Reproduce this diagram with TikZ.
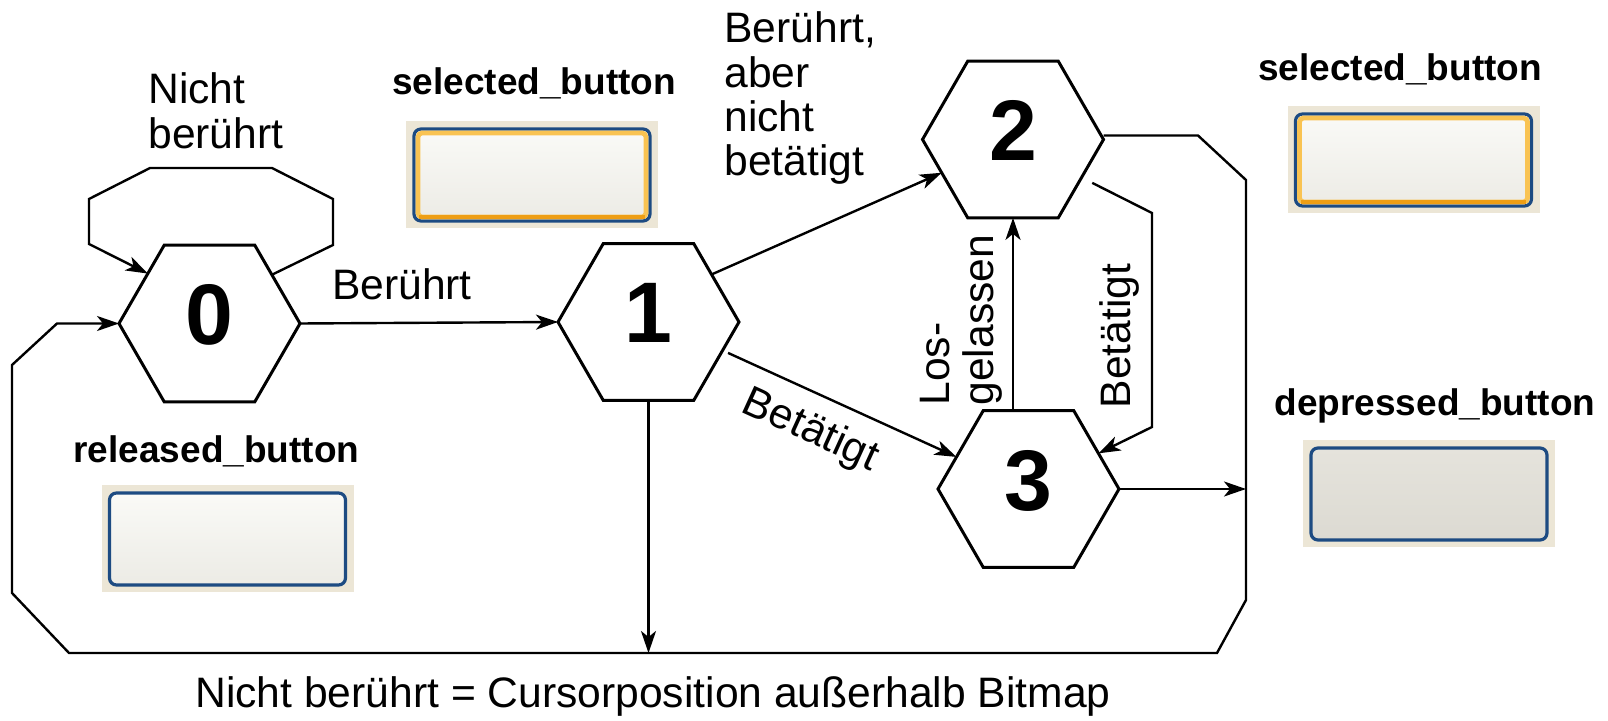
\documentclass[tikz,border=0pt]{standalone}
\usepackage{fontspec}
\setmainfont{Liberation Sans}
\usetikzlibrary{shapes.geometric,arrows.meta,calc}

\definecolor{btnbeige}{HTML}{ECE6D6}
\definecolor{btnblue}{HTML}{1D4B82}
\definecolor{btnring}{HTML}{F9C352}
\definecolor{btnringdark}{HTML}{EE9E14}
\definecolor{facetop}{HTML}{FAFAF7}
\definecolor{facebot}{HTML}{ECEBE5}
\definecolor{presstop}{HTML}{E5E3DC}
\definecolor{pressbot}{HTML}{DCDAD2}

\begin{document}
\begin{tikzpicture}[x=0.5pt,y=-0.5pt,
  state/.style={regular polygon, regular polygon sides=6, minimum size=90.5pt,
    inner sep=0pt, outer sep=0pt, draw, line width=1.5pt,
    font=\fontsize{43}{43}\selectfont\bfseries, text depth=9pt},
  conn/.style={line width=1.2pt, -{Stealth[length=11pt,width=7.5pt,inset=3pt]}},
  lbl/.style={font=\fontsize{21.3}{22.2}\selectfont, inner sep=0pt},
  blbl/.style={font=\fontsize{18.5}{20}\selectfont\bfseries, inner sep=0pt},
  bgbox/.style={fill=btnbeige, minimum width=126pt, minimum height=53.5pt,
    inner sep=0pt, outer sep=0pt},
  face/.style={rounded corners=3.5pt, minimum width=118pt, minimum height=46pt,
    inner sep=0pt, outer sep=0pt, draw=btnblue, line width=1.6pt},
]
\path[use as bounding box, fill=white] (0,0) rectangle (1608,721);

% states
\node[state] (h0) at (209.5,323.5) {0};
\node[state] (h1) at (648.5,322) {1};
\node[state] (h2) at (1013,139.5) {2};
\node[state] (h3) at (1028.5,489) {3};

% corners of the return path
\coordinate (r1) at (1198,135.5);
\coordinate (r2) at (1246,180);
\coordinate (r3) at (1246,600);
\coordinate (r4) at (1217,653);
\coordinate (l1) at (69,653);
\coordinate (l2) at (12,593);
\coordinate (l3) at (12,365);
\coordinate (l4) at (57,323.5);

% self loop of state 0
\draw[conn] (h0.38) -- (333,245) -- (333,199) -- (272,168) -- (150,168)
  -- (89,199) -- (89,244) -- (h0.141);
\node[lbl, anchor=north west, align=left] (tnb) at (148,72.5) {Nicht\\berührt};

% transitions
\draw[conn] (h0.east) -- node[lbl, pos=0.395, anchor=south, inner sep=11pt] {Berührt} (h1.west);
\draw[conn] (h1.37) -- (h2.205);
\node[lbl, anchor=north west, align=left] (tbab) at (724,11.5) {Berührt,\\aber\\nicht\\betätigt};
\draw[conn, shorten <=3pt] (h1.-21) -- node[lbl, pos=0.44, sloped, anchor=north, inner sep=8pt] {Betätigt} (h3.156);
\draw[conn, shorten <=6pt] (h2.-29) -- (1152,213)
  -- node[lbl, pos=0.575, rotate=90, anchor=south, inner sep=5.5pt] {Betätigt} (1152,427)
  -- (h3.27);
\draw[conn] (h2.south |- h3.north)
  -- node[lbl, pos=0.469, rotate=90, anchor=south, align=left, inner sep=4.5pt] {Los-\\gelassen} (h2.south);
\draw[conn] (h1.south) -- (h1.south |- l1);
\draw[conn] (h3.east) -- (h3.east -| r2);
\draw[conn] ([yshift=2pt]h2.east) -- (r1) -- (r2) -- (r3) -- (r4) -- (l1)
  -- (l2) -- (l3) -- (l4) -- (h0.west);

\node[lbl, anchor=base] (foot) at (653,708) {Nicht berührt = Cursorposition außerhalb Bitmap};

% button bitmaps
\node[blbl, anchor=base] (tselA) at (534,95) {selected\_button};
\node[bgbox] (bgA) at (532,175) {};
\node[face, top color=facetop, bottom color=facebot] (faceA) at (bgA.center) {};
\draw[btnring, line width=2.4pt, rounded corners=2pt]
  ([shift={(2pt,-2pt)}]faceA.north west) rectangle ([shift={(-2pt,2pt)}]faceA.south east);
\draw[btnringdark, line width=1.8pt]
  ([shift={(2.6pt,2.1pt)}]faceA.south west) -- ([shift={(-2.6pt,2.1pt)}]faceA.south east);

\node[blbl, anchor=base] (tselB) at (1400,81) {selected\_button};
\node[bgbox] (bgB) at (1413.5,160) {};
\node[face, top color=facetop, bottom color=facebot] (faceB) at (bgB.center) {};
\draw[btnring, line width=2.4pt, rounded corners=2pt]
  ([shift={(2pt,-2pt)}]faceB.north west) rectangle ([shift={(-2pt,2pt)}]faceB.south east);
\draw[btnringdark, line width=1.8pt]
  ([shift={(2.6pt,2.1pt)}]faceB.south west) -- ([shift={(-2.6pt,2.1pt)}]faceB.south east);

\node[blbl, anchor=base] (trel) at (216.5,463) {released\_button};
\node[bgbox] (bgC) at (227.5,539) {};
\node[face, top color=facetop, bottom color=facebot] (faceC) at (bgC.center) {};

\node[blbl, anchor=base] (tdep) at (1435,416) {depressed\_button};
\node[bgbox] (bgD) at (1429,494) {};
\node[face, top color=presstop, bottom color=pressbot] (faceD) at (bgD.center) {};
\end{tikzpicture}
\end{document}
